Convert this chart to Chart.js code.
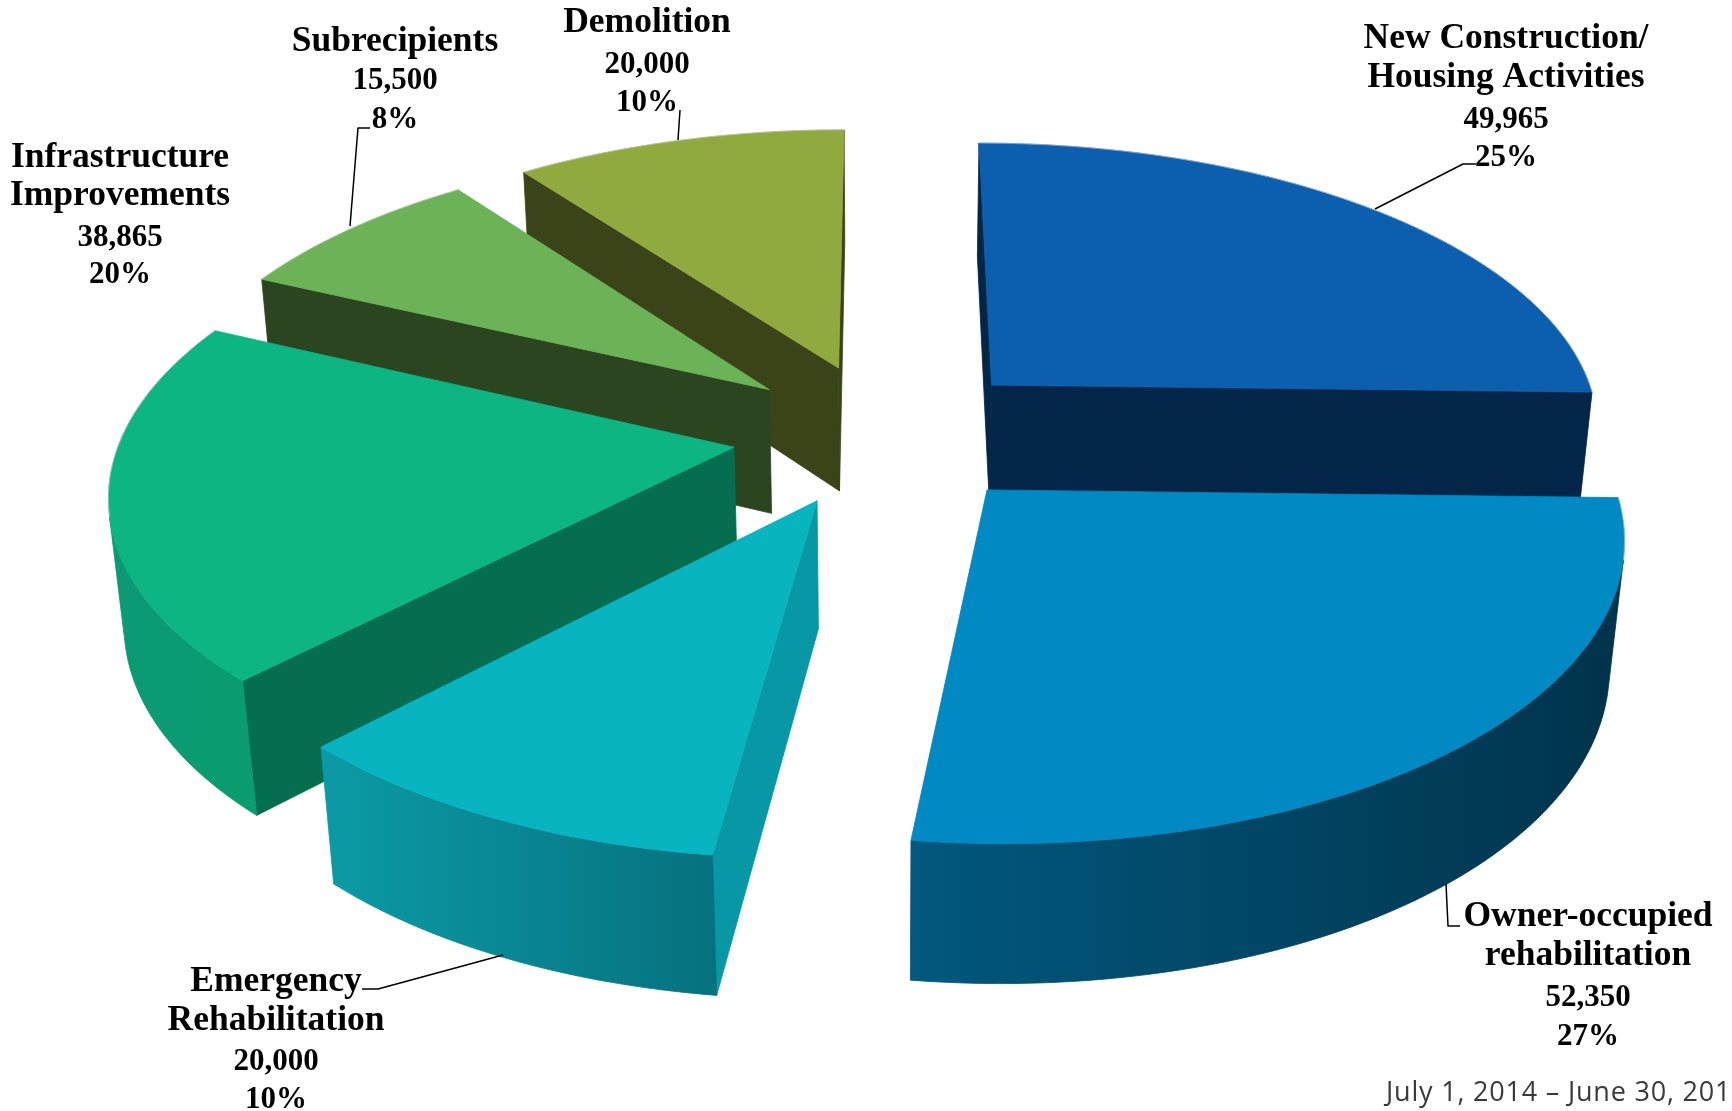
<!DOCTYPE html>
<html><head><meta charset="utf-8">
<style>html,body{margin:0;padding:0;background:#fff;overflow:hidden}canvas{display:block}</style>
<script src="https://cdn.jsdelivr.net/npm/chart.js@4"></script>
</head><body><canvas id="c" width="1732" height="1111"></canvas>
<script>
const categories = [["New Construction/","Housing Activities"],["Owner-occupied","rehabilitation"],["Emergency","Rehabilitation"],["Infrastructure","Improvements"],["Subrecipients"],["Demolition"]];
const amounts = [49965,52350,20000,38865,15500,20000];
const percentLabels = ["25%","27%","10%","20%","8%","10%"];
const topColors = ["#0b5fae","#0089c2","#08b4bf","#0db583","#6cb257","#91aa40"];
const wallColors = ["#032648","#032648","#0897a5","#056d50","#2b4520","#3b4318"];
const rimStartColors = ["#032648","#00334b","#06727f","#0a9c70","#2b4520","#3b4318"];
const rimEndColors = ["#032648","#02587e","#0b9ba6","#0b9a74","#2b4520","#3b4318"];

const camera = {cx:885, cy:434, fx:612.5, fy:288, persp:0.138, depth:128, depthPersp:0.02};
const labelLayout = [
  {x:1506, ys:[48,87,128,166], leader:[[1375,209],[1463,164],[1476,164]]},
  {x:1588, ys:[926,965,1006,1045], leader:[[1446,884],[1448,926],[1460,926]]},
  {x:276, ys:[991,1030,1070,1108], leader:[[503,955],[378,989],[362,989]]},
  {x:120, ys:[167,205,246,283], leader:null},
  {x:395, ys:[51,89,128], leader:[[350,226],[358,128],[370,128]]},
  {x:647, ys:[32,73,111], leader:[[678,140],[680,110]]}
];

function project(u,v,d){
  const w = 1 + camera.persp*v + camera.depthPersp*d;
  return [camera.cx + camera.fx*u/w, camera.cy + (-camera.fy*v + camera.depth*d)/w];
}
function tracePoly(ctx,pts){
  ctx.beginPath();
  pts.forEach((p,i)=> i?ctx.lineTo(p[0],p[1]):ctx.moveTo(p[0],p[1]));
  ctx.closePath();
}
function fillPoly(ctx,pts,color){
  tracePoly(ctx,pts);
  ctx.fillStyle=color; ctx.strokeStyle=color; ctx.lineWidth=0.8; ctx.lineJoin='round';
  ctx.fill(); ctx.stroke();
}
function area(p){let s=0;for(let i=0;i<p.length;i++){const a=p[i],b=p[(i+1)%p.length];s+=a[0]*b[1]-b[0]*a[1];}return s/2;}

const pie3d = {
  id:'pie3d',
  beforeDatasetsDraw(chart){
    const ctx=chart.ctx, arcs=chart.getDatasetMeta(0).data;
    const order=arcs.map((a,i)=>i).sort((i,j)=>{
      const m=k=>Math.sin((arcs[k].startAngle+arcs[k].endAngle)/2);
      return m(i)-m(j);
    });
    for(const i of order){
      const a=arcs[i], R=a.outerRadius, e=a.options.offset/R, mid=(a.startAngle+a.endAngle)/2;
      const ou=e*Math.cos(mid), ov=-e*Math.sin(mid);
      const N=Math.max(8,Math.round((a.endAngle-a.startAngle)*40));
      const ring=[];
      for(let k=0;k<=N;k++){
        const t=a.startAngle+(a.endAngle-a.startAngle)*k/N;
        ring.push([ou+Math.cos(t),ov-Math.sin(t)]);
      }
      const up=(p,d)=>project(p[0],p[1],d), apex=[ou,ov];
      // radial walls, culled when they face away from the viewer
      const w0=[up(apex,0),up(ring[0],0),up(ring[0],1),up(apex,1)];
      const w1=[up(ring[N],0),up(apex,0),up(apex,1),up(ring[N],1)];
      if(area(w0)<0) fillPoly(ctx,w0,wallColors[i]);
      if(area(w1)<0) fillPoly(ctx,w1,wallColors[i]);
      // outer wall: front-facing run of the rim, one shaded polygon
      const front=[], back=[];
      for(let k=0;k<N;k++){
        const q=[up(ring[k],0),up(ring[k+1],0),up(ring[k+1],1),up(ring[k],1)];
        (area(q)<0?front:back).push(k);
      }
      if(front.length){
        const s=front[0], t=front[front.length-1]+1, upper=[], lower=[];
        for(let k=s;k<=t;k++){ upper.push(up(ring[k],0)); lower.unshift(up(ring[k],1)); }
        const g=ctx.createLinearGradient(upper[0][0],0,upper[upper.length-1][0],0);
        g.addColorStop(0,rimStartColors[i]); g.addColorStop(1,rimEndColors[i]);
        fillPoly(ctx,[...upper,...lower],g);
      }
      fillPoly(ctx,[up(apex,0),...ring.map(p=>up(p,0))],a.options.backgroundColor);
      // faint light edge along the far side of the rim
      if(back.length){
        ctx.beginPath();
        back.forEach(k=>{const p=up(ring[k],0),q=up(ring[k+1],0);ctx.moveTo(p[0],p[1]);ctx.lineTo(q[0],q[1]);});
        ctx.strokeStyle='rgba(205,205,205,0.55)'; ctx.lineWidth=1; ctx.stroke();
      }
    }
    return false;
  },
  afterDraw(chart){
    const ctx=chart.ctx;
    ctx.save();
    ctx.fillStyle='#000'; ctx.textAlign='center'; ctx.textBaseline='alphabetic';
    categories.forEach((names,i)=>{
      const L=labelLayout[i];
      const lines=[...names,amounts[i].toLocaleString('en-US'),percentLabels[i]];
      lines.forEach((t,k)=>{
        ctx.font=(k<names.length)?'bold 35.5px "Liberation Serif"':'bold 31px "Liberation Serif"';
        ctx.fillText(t,L.x,L.ys[k]);
      });
      if(L.leader){
        ctx.beginPath();
        L.leader.forEach((p,k)=>k?ctx.lineTo(p[0],p[1]):ctx.moveTo(p[0],p[1]));
        ctx.strokeStyle='#000'; ctx.lineWidth=1.5; ctx.stroke();
      }
    });
    ctx.textAlign='left'; ctx.fillStyle='#3a3a3a';
    ctx.font='27px "Open Sans"';
    ctx.letterSpacing='0.8px';
    ctx.fillText('July 1, 2014 – June 30, 2015',1386,1101);
    ctx.restore();
  }
};

new Chart(document.getElementById('c'),{
  type:'pie',
  data:{labels:categories.map(n=>n.join(' ')),datasets:[{data:amounts,backgroundColor:topColors,borderWidth:0,offset:123}]},
  options:{responsive:false,animation:false,events:[],layout:{padding:0},
    plugins:{legend:{display:false},tooltip:{enabled:false}}},
  plugins:[pie3d]
});
</script></body></html>
